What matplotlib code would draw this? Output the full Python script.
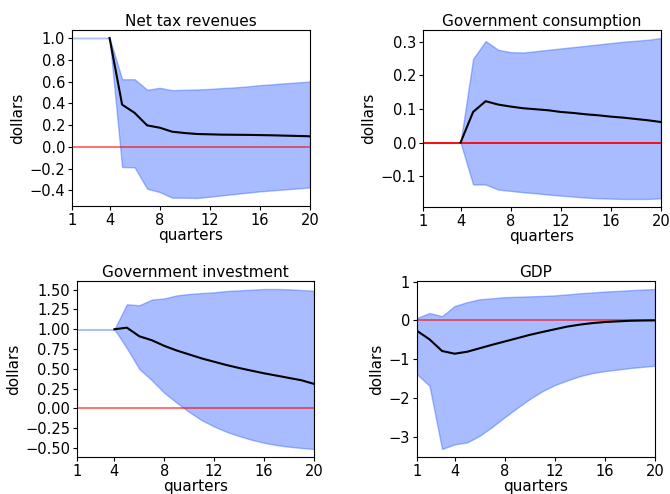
import matplotlib
matplotlib.use("Agg")
import matplotlib.pyplot as plt
from matplotlib.ticker import MultipleLocator
import numpy as np

plt.rcParams["font.size"] = 11
plt.rcParams["xtick.labelsize"] = 10.5
plt.rcParams["ytick.labelsize"] = 10.5
plt.rcParams["xtick.major.size"] = 3
plt.rcParams["ytick.major.size"] = 3
plt.rcParams["xtick.major.pad"] = 2
plt.rcParams["ytick.major.pad"] = 2

quarters = list(range(1, 21))
xticks = [1, 4, 8, 12, 16, 20]

# Net tax revenues
tax_mean = [1.0, 0.388, 0.312, 0.197, 0.176, 0.139, 0.127, 0.118, 0.115, 0.112,
            0.111, 0.110, 0.108, 0.106, 0.103, 0.100, 0.097]
tax_upper = [1.0, 1.0, 1.0, 1.0, 0.621, 0.621, 0.524, 0.542, 0.521, 0.524, 0.527,
             0.532, 0.540, 0.546, 0.555, 0.567, 0.575, 0.584, 0.592, 0.600]
tax_lower = [1.0, 1.0, 1.0, 1.0, -0.185, -0.188, -0.385, -0.415, -0.467, -0.467,
             -0.470, -0.458, -0.445, -0.433, -0.421, -0.409, -0.400, -0.391, -0.382, -0.373]

# Government consumption
gc_mean = [0.0, 0.091, 0.123, 0.113, 0.107, 0.102, 0.099, 0.096, 0.091, 0.088,
           0.084, 0.081, 0.077, 0.074, 0.070, 0.066, 0.061]
gc_upper = [0.0, 0.0, 0.0, 0.0, 0.249, 0.302, 0.276, 0.269, 0.268, 0.272, 0.276,
            0.280, 0.284, 0.288, 0.292, 0.296, 0.300, 0.303, 0.306, 0.311]
gc_lower = [0.0, 0.0, 0.0, 0.0, -0.125, -0.125, -0.140, -0.144, -0.148, -0.151,
            -0.155, -0.158, -0.161, -0.164, -0.166, -0.167, -0.168, -0.168, -0.168, -0.166]

# Government investment
gi_mean = [1.0, 1.02, 0.911, 0.861, 0.79, 0.731, 0.681, 0.631, 0.589, 0.547,
           0.51, 0.476, 0.443, 0.414, 0.384, 0.355, 0.309]
gi_upper = [1.0, 1.0, 1.0, 1.0, 1.316, 1.304, 1.375, 1.39, 1.428, 1.446, 1.458,
            1.467, 1.484, 1.492, 1.50, 1.509, 1.509, 1.505, 1.496, 1.488]
gi_lower = [1.0, 1.0, 1.0, 1.0, 0.76, 0.497, 0.355, 0.196, 0.071, -0.046, -0.15,
            -0.23, -0.297, -0.351, -0.397, -0.435, -0.464, -0.485, -0.501, -0.514]

# GDP
gdp_mean = [-0.27, -0.49, -0.79, -0.86, -0.81, -0.72, -0.63, -0.545, -0.46, -0.374,
            -0.30, -0.23, -0.16, -0.11, -0.07, -0.043, -0.026, -0.01, -0.004, 0.0]
gdp_upper = [0.06, 0.19, 0.11, 0.37, 0.47, 0.545, 0.57, 0.60, 0.61, 0.62, 0.63,
             0.645, 0.67, 0.70, 0.72, 0.745, 0.76, 0.78, 0.795, 0.81]
gdp_lower = [-1.39, -1.69, -3.32, -3.20, -3.15, -2.98, -2.75, -2.50, -2.26, -2.03,
             -1.83, -1.67, -1.55, -1.44, -1.36, -1.31, -1.27, -1.23, -1.20, -1.17]

panels = [
    ("Net tax revenues", quarters[3:], tax_mean, tax_upper, tax_lower, 0.6, 0.2),
    ("Government consumption", quarters[3:], gc_mean, gc_upper, gc_lower, 1.0, 0.1),
    ("Government investment", quarters[3:], gi_mean, gi_upper, gi_lower, 0.6, 0.25),
    ("GDP", quarters, gdp_mean, gdp_upper, gdp_lower, 0.6, 1.0),
]

# axes boxes in pixels: left, right, top, bottom
W, H = 670, 494
boxes = [(72, 310, 30, 206), (423, 661, 30, 207), (77, 314, 281, 457), (417, 655, 281, 457)]

fig = plt.figure(figsize=(W / 100, H / 100), dpi=100)
for (title, xq, mean, upper, lower, red_alpha, ystep), (l, r, t, b) in zip(panels, boxes):
    ax = fig.add_axes([l / W, (H - b) / H, (r - l) / W, (b - t) / H])
    ax.fill_between(quarters, lower, upper, color=(0.15, 0.35, 1.0), alpha=0.4, lw=1)
    ax.plot(quarters, np.zeros(len(quarters)), color="red", alpha=red_alpha, lw=1.3)
    ax.plot(xq, mean, color="black", lw=1.5)
    ax.set_xlim(1, 20)
    ax.set_xticks(xticks)
    ax.yaxis.set_major_locator(MultipleLocator(ystep))
    ax.set_title(title, fontsize=11, pad=3)
    ax.set_xlabel("quarters", labelpad=0)
    ax.set_ylabel("dollars", labelpad=3)

fig.savefig("out.png", dpi=100)
